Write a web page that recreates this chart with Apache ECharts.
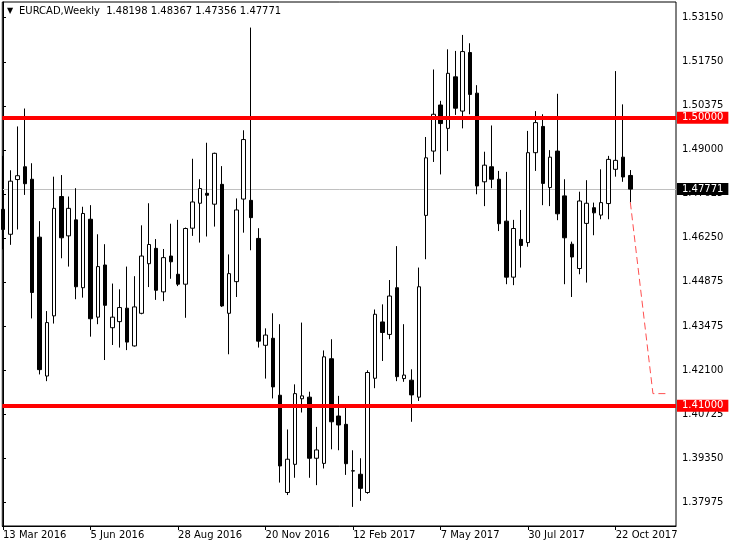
<!DOCTYPE html>
<html><head><meta charset="utf-8">
<script src="https://cdn.jsdelivr.net/npm/echarts@6/dist/echarts.min.js"></script>
<style>html,body{margin:0;padding:0;background:#fff}#c{width:730px;height:548px}</style>
</head><body><div id="c"></div>
<script>
// Weekly EURCAD candles (index 0 = week of 13 Mar 2016)
const opens  = [1.4714,1.4636,1.4807,1.4847,1.4808,1.4627,1.4193,1.4381,1.4754,1.4631,1.4681,1.4469,1.4683,1.4377,1.4540,1.4344,1.4363,1.4405,1.4287,1.4389,1.4544,1.4592,1.4456,1.4568,1.4511,1.4480,1.4655,1.4733,1.4764,1.4730,1.4792,1.4389,1.4488,1.4746,1.4742,1.4623,1.4289,1.4311,1.4133,1.3829,1.3917,1.4122,1.4127,1.3936,1.3920,1.4247,1.4068,1.4042,1.3897,1.3886,1.3829,1.4186,1.4362,1.4323,1.4469,1.4185,1.4180,1.4127,1.4695,1.4896,1.5040,1.4967,1.5128,1.5021,1.5204,1.5077,1.4800,1.4847,1.4808,1.4677,1.4502,1.4620,1.4610,1.4891,1.4973,1.4782,1.4896,1.4756,1.4605,1.4529,1.4670,1.4719,1.4696,1.4732,1.4839,1.4877,1.48198];
const highs  = [1.4881,1.4836,1.4973,1.5029,1.4858,1.4677,1.4396,1.4816,1.4821,1.4754,1.4780,1.4722,1.4727,1.4636,1.4605,1.4482,1.4464,1.4535,1.4505,1.4664,1.4733,1.4621,1.4590,1.4669,1.4681,1.4657,1.4872,1.4808,1.4922,1.4891,1.4849,1.4573,1.4748,1.4961,1.5282,1.4655,1.4342,1.4389,1.4355,1.4026,1.4167,1.4360,1.4144,1.4034,1.4273,1.4308,1.4131,1.4094,1.3961,1.3936,1.4211,1.4401,1.4417,1.4493,1.4599,1.4355,1.4214,1.4532,1.4940,1.5151,1.5053,1.5214,1.5209,1.5259,1.5233,1.5102,1.4894,1.4976,1.4834,1.4831,1.4681,1.4712,1.4959,1.5021,1.5011,1.4899,1.5075,1.4808,1.4613,1.4769,1.4805,1.4735,1.4839,1.4881,1.5146,1.5042,1.48367];
const lows   = [1.4589,1.4603,1.4651,1.4759,1.4373,1.4198,1.4177,1.4357,1.4561,1.4535,1.4433,1.4438,1.4316,1.4355,1.4243,1.4290,1.4282,1.4274,1.4285,1.4386,1.4471,1.4431,1.4427,1.4497,1.4474,1.4375,1.4631,1.4610,1.4629,1.4660,1.4409,1.4261,1.4440,1.4641,1.4586,1.4282,1.4185,1.4123,1.3860,1.3821,1.3875,1.4079,1.3875,1.3852,1.3904,1.3964,1.3961,1.3884,1.3784,1.3803,1.3825,1.4155,1.4240,1.4308,1.4177,1.4175,1.4050,1.4115,1.4558,1.4862,1.4823,1.4896,1.5009,1.4967,1.5011,1.4761,1.4724,1.4780,1.4646,1.4480,1.4477,1.4532,1.4597,1.4834,1.4727,1.4724,1.4680,1.4480,1.4440,1.4511,1.4485,1.4633,1.4683,1.4683,1.4816,1.4800,1.47356];
const closes = [1.4651,1.4802,1.4819,1.4794,1.4454,1.4213,1.4360,1.4717,1.4625,1.4717,1.4472,1.4701,1.4372,1.4535,1.4414,1.4377,1.4407,1.4299,1.4409,1.4568,1.4604,1.4461,1.4563,1.4550,1.4480,1.4654,1.4737,1.4779,1.4758,1.4889,1.4412,1.4513,1.4712,1.4932,1.4688,1.4302,1.4321,1.4159,1.3912,1.3933,1.4138,1.4131,1.3936,1.3962,1.4253,1.4050,1.4040,1.3919,1.3896,1.3842,1.4204,1.4386,1.4329,1.4443,1.4191,1.4196,1.4134,1.4472,1.4875,1.5011,1.4982,1.5139,1.5030,1.5207,1.5073,1.4787,1.4852,1.4808,1.4669,1.4502,1.4654,1.4601,1.4891,1.4985,1.4795,1.4877,1.4700,1.4625,1.4565,1.4740,1.4733,1.4703,1.4735,1.4870,1.4867,1.4815,1.47771];

const xTickIdx = [0,12,24,36,48,60,72,84];
const xTickLabels = ['13 Mar 2016','5 Jun 2016','28 Aug 2016','20 Nov 2016','12 Feb 2017','7 May 2017','30 Jul 2017','22 Oct 2017'];
const yTicks = [1.53150,1.51750,1.50375,1.49000,1.47625,1.46250,1.44875,1.43475,1.42100,1.40725,1.39350,1.37975];
const levels = [1.50000, 1.41000];
const lastPrice = 1.47771;
const projX = [86, 89.1, 91.3];
const projY = [1.47356, 1.4138, 1.4138];
const titleText = 'EURCAD,Weekly  1.48198 1.48367 1.47356 1.47771';

const FONT = 'DejaVu Sans';
const candleData = opens.map((o, i) => [i, o, closes[i], lows[i], highs[i]]);
const projData = projX.map((x, i) => [x, projY[i]]);

const chart = echarts.init(document.getElementById('c'), null, {renderer: 'canvas'});
chart.setOption({
  animation: false,
  backgroundColor: '#fff',
  title: {
    text: '{tri|▼}' + titleText,
    left: 7, top: 6, padding: 0,
    textStyle: {
      fontFamily: FONT, fontSize: 10, fontWeight: 'normal', color: '#000',
      rich: { tri: { fontFamily: FONT, fontSize: 8, width: 12, color: '#000' } }
    }
  },
  grid: {
    left: 2, top: 2, right: 54, bottom: 22,
    show: true, borderColor: '#000', borderWidth: 1, backgroundColor: '#fff'
  },
  xAxis: {
    type: 'value', min: -0.096, max: 92.26,
    axisLine: {show: true, lineStyle: {color: '#000', width: 1}},
    axisTick: {show: true, length: 4, customValues: xTickIdx, lineStyle: {color: '#000'}},
    axisLabel: {
      customValues: xTickIdx, align: 'left', margin: 4, padding: [0, 0, 0, 0],
      fontFamily: FONT, fontSize: 10, color: '#000',
      formatter: v => xTickLabels[xTickIdx.indexOf(Math.round(v))]
    },
    splitLine: {show: false}
  },
  yAxis: {
    type: 'value', position: 'right', min: 1.37243, max: 1.53619, scale: true,
    axisLine: {show: true, lineStyle: {color: '#000', width: 1}},
    axisTick: {show: true, length: 3, customValues: yTicks, lineStyle: {color: '#000'}},
    axisLabel: {
      customValues: yTicks, margin: 6, fontFamily: FONT, fontSize: 10, color: '#000',
      formatter: v => v.toFixed(5)
    },
    splitLine: {show: false}
  },
  series: [
    {
      type: 'candlestick',
      data: candleData,
      barWidth: 4,
      itemStyle: {color: '#fff', color0: '#000', borderColor: '#000', borderColor0: '#000', borderWidth: 1},
      emphasis: {disabled: true},
      markLine: {
        silent: true, symbol: 'none', z: 5, precision: 5,
        lineStyle: {color: '#ff0000', width: 4, type: 'solid'},
        label: {
          show: true, position: 'end', distance: 1,
          backgroundColor: '#ff0000', color: '#fff', padding: [1, 5, 1, 5],
          fontFamily: FONT, fontSize: 10, lineHeight: 10,
          formatter: p => Number(p.value).toFixed(5)
        },
        data: levels.map(v => ({yAxis: v}))
      }
    },
    {
      type: 'line',
      data: projData,
      symbol: 'none',
      lineStyle: {color: '#ff5050', width: 1, type: [7, 4]},
      emphasis: {disabled: true},
      markLine: {
        silent: true, symbol: 'none', z: 1, precision: 5,
        lineStyle: {color: '#c0c0c0', width: 1, type: 'solid'},
        label: {
          show: true, position: 'end', distance: 1,
          backgroundColor: '#000', color: '#fff', padding: [1, 5, 1, 5],
          fontFamily: FONT, fontSize: 10, lineHeight: 10,
          formatter: p => Number(p.value).toFixed(5)
        },
        data: [{yAxis: lastPrice}]
      }
    }
  ]
});
</script>
</body></html>
